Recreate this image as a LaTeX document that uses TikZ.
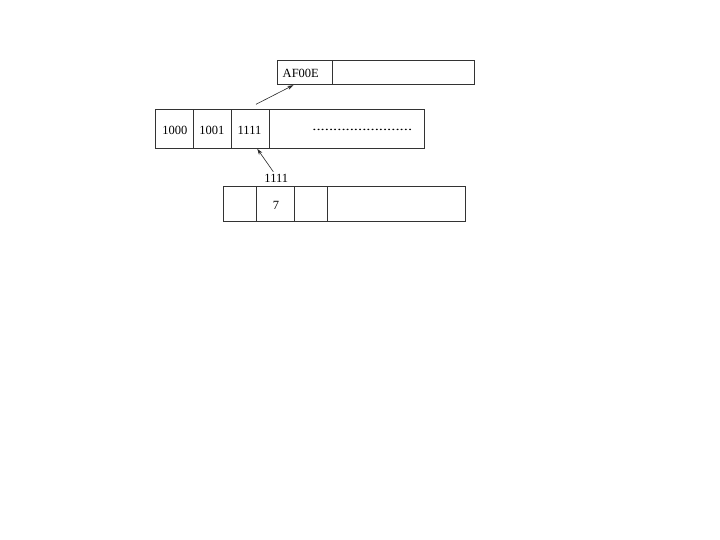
\documentclass[tikz,border=0pt]{standalone}
\usepackage{fontspec}
\setmainfont{Liberation Serif}
\usetikzlibrary{arrows.meta}
\begin{document}
\begin{tikzpicture}[x=1pt,y=-1pt,
  cell/.style={draw=black!80,line width=0.7pt,inner sep=0pt,anchor=center},
  lbl/.style={inner sep=0pt,font=\fontsize{12.5}{14}\selectfont},
  arr/.style={draw=black!85,line width=0.6pt,-{Stealth[length=6pt,width=4pt]}}]
\useasboundingbox (0,0) rectangle (720,540);
% top record
\node[cell,minimum width=54.3pt,minimum height=24pt] (t1) at (304.85,72.7) {};
\node[cell,minimum width=142.3pt,minimum height=24pt] (t2) at (403.15,72.7) {};
% middle record
\node[cell,minimum width=38pt,minimum height=39.4pt] (m1) at (174.7,129) {};
\node[cell,minimum width=38pt,minimum height=39.4pt] (m2) at (212.7,129) {};
\node[cell,minimum width=37.6pt,minimum height=39.4pt] (m3) at (250.5,129) {};
\node[cell,minimum width=155pt,minimum height=39.4pt] (m4) at (346.8,129) {};
% bottom record
\node[cell,minimum width=33.7pt,minimum height=34.6pt] (b1) at (239.85,204) {};
\node[cell,minimum width=37.6pt,minimum height=34.6pt] (b2) at (275.5,204) {};
\node[cell,minimum width=33.4pt,minimum height=34.6pt] (b3) at (311,204) {};
\node[cell,minimum width=138pt,minimum height=34.6pt] (b4) at (396.7,204) {};
% texts
\node[lbl] (tA) at (300.8,73.5) {AF00E};
\node[lbl] (tm1) at (174.8,130) {1000};
\node[lbl] (tm2) at (211.8,130) {1001};
\node[lbl] (tm3) at (249.5,130) {1111};
\node[lbl,xscale=1.33] (tdots) at (362.3,130) {........................};
\node[lbl] (tb2) at (276,205) {7};
\node[lbl] (tptr) at (276.3,178.3) {1111};
% connectors
\coordinate (a1s) at (256,104.3);
\coordinate (a1e) at (293.3,85.2);
\coordinate (a2s) at (273.3,171.7);
\coordinate (a2e) at (257.3,148.9);
\draw[arr] (a1s) -- (a1e);
\draw[arr] (a2s) -- (a2e);
\end{tikzpicture}
\end{document}
